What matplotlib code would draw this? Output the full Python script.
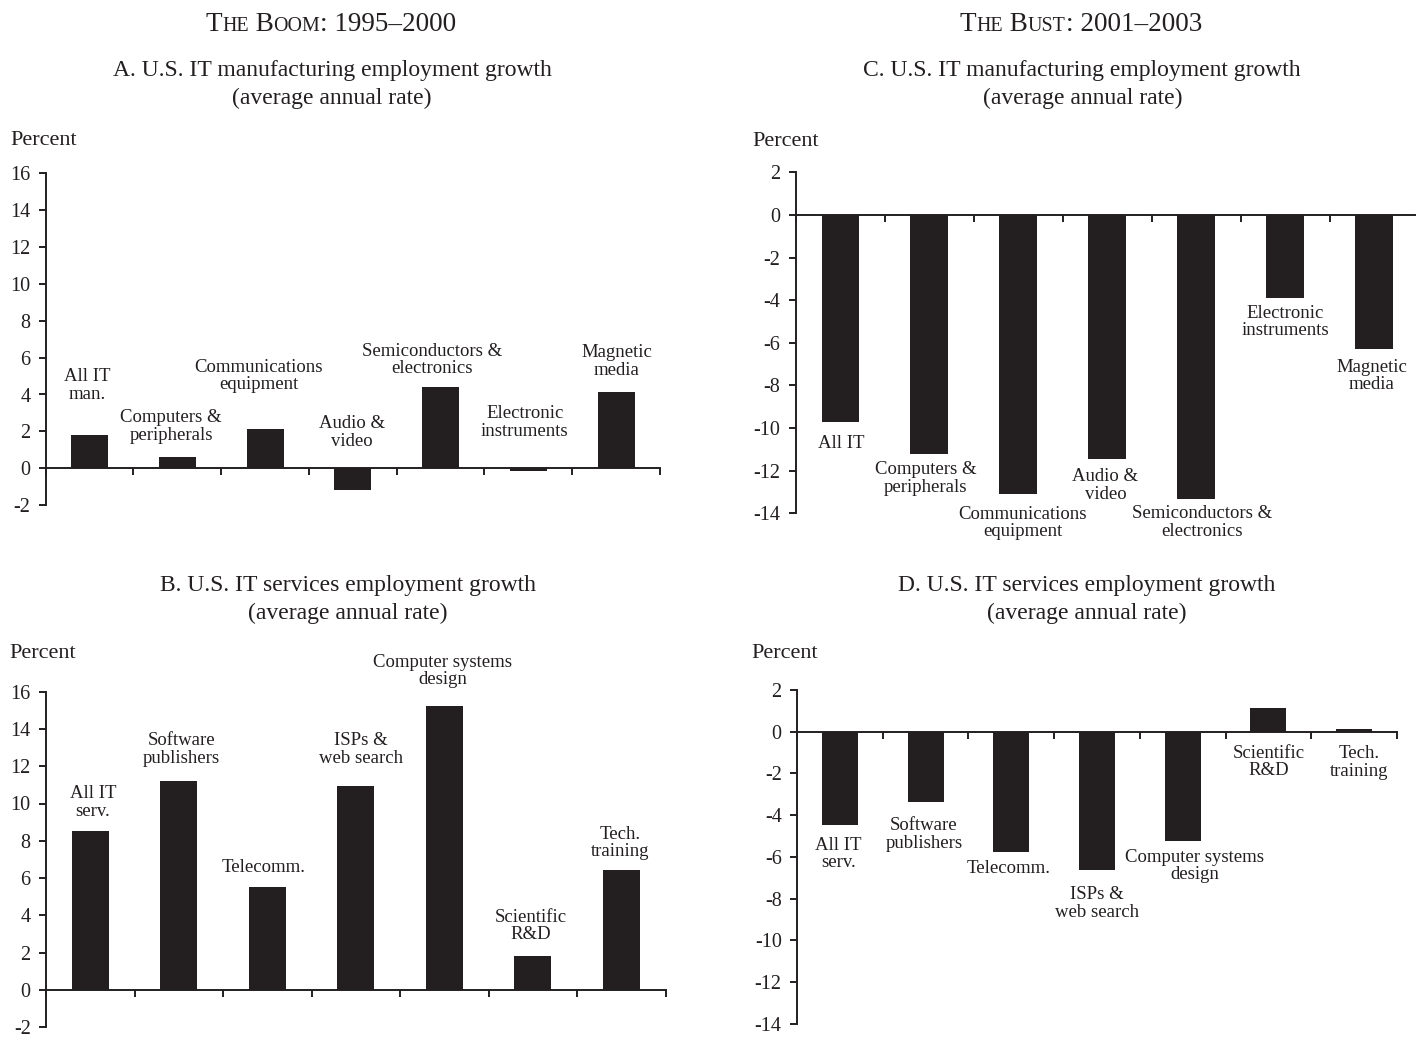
#!/usr/bin/env python3
"""
IT employment growth, boom (1995-2000) vs bust (2001-2003).
Four bar panels: IT manufacturing (A, C) and IT services (B, D).
"""

import matplotlib
matplotlib.use('Agg')
import matplotlib.pyplot as plt

plt.rcParams.update({
    'font.family': ['Liberation Serif', 'DejaVu Serif'],
    'axes.unicode_minus': False,
    'xtick.labelsize': 14.5,
    'ytick.labelsize': 14.5,
})

BAR_COLOR = '#231f20'
FIG_W, FIG_H = 1424, 1055

# ---- data -------------------------------------------------------------
mfg_cats = ['All IT\nman.', 'Computers &\nperipherals', 'Communications\nequipment',
            'Audio &\nvideo', 'Semiconductors &\nelectronics', 'Electronic\ninstruments',
            'Magnetic\nmedia']
mfg_cats_bust = ['All IT', 'Computers &\nperipherals', 'Communications\nequipment',
                 'Audio &\nvideo', 'Semiconductors &\nelectronics', 'Electronic\ninstruments',
                 'Magnetic\nmedia']
svc_cats = ['All IT\nserv.', 'Software\npublishers', 'Telecomm.', 'ISPs &\nweb search',
            'Computer systems\ndesign', 'Scientific\nR&D', 'Tech.\ntraining']

mfg_boom = [1.8, 0.6, 2.1, -1.2, 4.4, -0.15, 4.15]
svc_boom = [8.55, 11.2, 5.5, 10.95, 15.25, 1.8, 6.45]
mfg_bust = [-9.7, -11.2, -13.1, -11.45, -13.35, -3.9, -6.3]
svc_bust = [-4.48, -3.35, -5.76, -6.65, -5.25, 1.12, 0.11]

boom_ticks = [-2, 0, 2, 4, 6, 8, 10, 12, 14, 16]
bust_ticks = [-14, -12, -10, -8, -6, -4, -2, 0, 2]

# label anchors (x offset from bar centre, y in data units)
lab_a = [(-0.03, 4.5), (-0.07, 2.26), (-0.07, 5.0), (-0.01, 1.95), (-0.1, 5.87), (-0.04, 2.48), (0.01, 5.78)]
lab_b = [(0.03, 10.04), (0.03, 12.9), (-0.04, 6.57), (0.06, 12.9), (-0.02, 17.1), (-0.02, 3.43), (-0.01, 7.88)]
lab_c = [(0.01, -10.74), (-0.04, -12.36), (0.05, -14.46), (-0.02, -12.69), (0.07, -14.44), (0.0, -5.02), (-0.03, -7.56)]
lab_d = [(-0.02, -5.87), (-0.02, -4.92), (-0.03, -6.56), (0.0, -8.24), (0.14, -6.44), (0.0, -1.46), (0.06, -1.48)]


def px_rect(left, top, right, bottom):
    return [left / FIG_W, 1 - bottom / FIG_H, (right - left) / FIG_W, (bottom - top) / FIG_H]


def draw_panel(ax, cats, vals, labpos, ylim, yticks, xmax, xtick_n):
    xs = [i + 0.5 for i in range(len(vals))]
    ax.bar(xs, vals, width=0.42, color=BAR_COLOR, zorder=2)
    for x, name, (dx, y) in zip(xs, cats, labpos):
        ax.text(x + dx, y, name, ha='center', va='center', fontsize=13.5,
                linespacing=1.05, color='#231f20')
    ax.set_xlim(0, xmax)
    ax.set_ylim(*ylim)
    ax.set_yticks(yticks)
    ax.set_yticklabels([str(t) for t in yticks])
    ax.set_xticks(list(range(xtick_n)))
    ax.set_xticklabels([])
    for s in ['top', 'right']:
        ax.spines[s].set_visible(False)
    ax.spines['bottom'].set_position(('data', 0))
    for s in ['left', 'bottom']:
        ax.spines[s].set_linewidth(1.4)
        ax.spines[s].set_color('#231f20')
        ax.spines[s].set_zorder(3)
    ax.tick_params(axis='y', direction='out', length=5, width=1.4, pad=6, colors='#231f20')
    ax.tick_params(axis='x', direction='out', length=5, width=1.4, colors='#231f20')
    ax.set_facecolor('none')


def smallcaps(fig, cx, base_y, parts, big=19.5, small=14.4):
    renderer = fig.canvas.get_renderer()
    texts = []
    for s, is_small in parts:
        t = fig.text(0, 1 - base_y / FIG_H, s, fontsize=small if is_small else big,
                     ha='left', va='baseline', color='#231f20')
        texts.append(t)
    widths = [t.get_window_extent(renderer).width for t in texts]
    x = cx - sum(widths) / 2
    for t, w in zip(texts, widths):
        t.set_x(x / FIG_W)
        x += w


def ftext(fig, x, y, s, size, ha='center'):
    fig.text(x / FIG_W, 1 - y / FIG_H, s, fontsize=size, ha=ha, va='baseline', color='#231f20')


def main():
    fig = plt.figure(figsize=(FIG_W / 100, FIG_H / 100), dpi=100)

    ax_a = fig.add_axes(px_rect(45.7, 173.5, 660, 505))
    ax_b = fig.add_axes(px_rect(46, 691.6, 665.5, 1027.3))
    ax_c = fig.add_axes(px_rect(795.7, 172.4, 1415, 513.2))
    ax_d = fig.add_axes(px_rect(797, 690, 1397, 1023.6))

    draw_panel(ax_a, mfg_cats, mfg_boom, lab_a, (-2, 16), boom_ticks, 7, 8)
    draw_panel(ax_b, svc_cats, svc_boom, lab_b, (-2, 16), boom_ticks, 7, 8)
    draw_panel(ax_c, mfg_cats_bust, mfg_bust, lab_c, (-14, 2), bust_ticks, 6.96, 7)
    draw_panel(ax_d, svc_cats, svc_bust, lab_d, (-14, 2), bust_ticks, 7, 8)

    # column headings in small caps
    smallcaps(fig, 331, 30.7, [('T', False), ('HE', True), (' B', False), ('OOM', True),
                               (': 1995\u20132000', False)])
    smallcaps(fig, 1081, 30.7, [('T', False), ('HE', True), (' B', False), ('UST', True),
                                (': 2001\u20132003', False)])

    ftext(fig, 332, 76, 'A. U.S. IT manufacturing employment growth', 17)
    ftext(fig, 332, 104, '(average annual rate)', 17)
    ftext(fig, 1082, 76, 'C. U.S. IT manufacturing employment growth', 17)
    ftext(fig, 1083, 104, '(average annual rate)', 17)
    ftext(fig, 348, 590.7, 'B. U.S. IT services employment growth', 17)
    ftext(fig, 348, 618.5, '(average annual rate)', 17)
    ftext(fig, 1087, 590.7, 'D. U.S. IT services employment growth', 17)
    ftext(fig, 1087, 618.5, '(average annual rate)', 17)

    ftext(fig, 10, 145, 'Percent', 16, ha='left')
    ftext(fig, 9, 657.7, 'Percent', 16, ha='left')
    ftext(fig, 752, 146, 'Percent', 16, ha='left')
    ftext(fig, 751, 657.7, 'Percent', 16, ha='left')

    fig.savefig('out.png', dpi=100, facecolor='white')
    plt.close(fig)


if __name__ == '__main__':
    main()
